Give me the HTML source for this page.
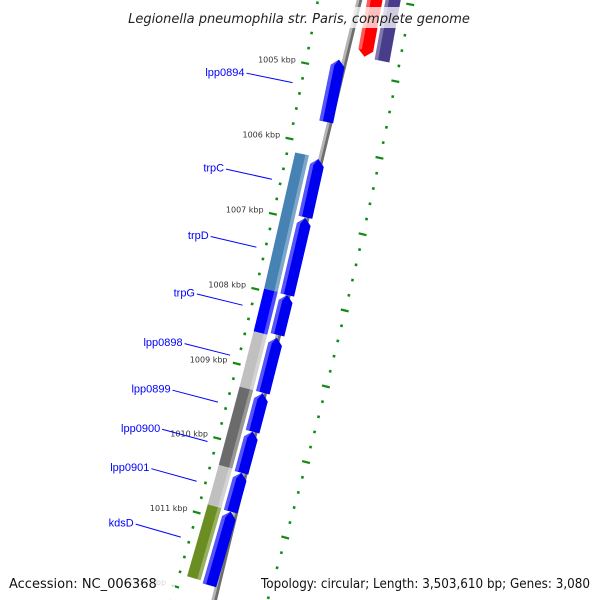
<!DOCTYPE html>
<html><head><meta charset="utf-8">
<style>
html,body{margin:0;padding:0;background:#fff;width:600px;height:600px;overflow:hidden;}
svg{display:block;font-family:"Liberation Sans","DejaVu Sans",sans-serif;overflow:hidden;}
.dv{font-family:"DejaVu Sans","Liberation Sans",sans-serif;}
</style></head>
<body>
<svg id="map" width="600" height="600" viewBox="0 0 600 600" xmlns="http://www.w3.org/2000/svg">
<g id="ticks"></g>
<g id="feats"></g>
<g id="labels"></g>
<g>
<rect x="116" y="7" width="368" height="21" fill="#fff" fill-opacity="0.75"/>
<text class="dv" x="299" y="23" text-anchor="middle" font-size="13" font-style="italic" fill="#222">Legionella pneumophila str. Paris, complete genome</text>
</g>
<g>
<rect x="5" y="572" width="170" height="21" fill="#fff" fill-opacity="0.8"/>
<text class="dv" x="9" y="588" font-size="13" fill="#111">Accession: NC_006368</text>
</g>
<g>
<rect x="256" y="572" width="340" height="21" fill="#fff" fill-opacity="0.8"/>
<text class="dv" x="261" y="588" font-size="13" textLength="329" lengthAdjust="spacingAndGlyphs" fill="#111">Topology: circular; Length: 3,503,610 bp; Genes: 3,080</text>
</g>
</svg>
<script>
// data
const tickMajors = [1004, 1005, 1006, 1007, 1008, 1009, 1010, 1011, 1012];
const tickLabels = ["1004 kbp","1005 kbp","1006 kbp","1007 kbp","1008 kbp","1009 kbp","1010 kbp","1011 kbp","1012 kbp"];
const geneNames = ["lpp0894","trpC","trpD","trpG","lpp0898","lpp0899","lpp0900","lpp0901","kdsD"];
const geneStarts = [1004.87, 1006.18, 1006.96, 1007.98, 1008.55, 1009.29, 1009.80, 1010.35, 1010.87];
const geneEnds   = [1005.69, 1006.95, 1007.98, 1008.51, 1009.28, 1009.80, 1010.35, 1010.87, 1011.86];
const cogStarts = [1006.16, 1007.97, 1008.54, 1009.28, 1010.33, 1010.86];
const cogEnds   = [1007.97, 1008.54, 1009.28, 1010.33, 1010.86, 1011.83];
const cogColors = ["#4682b4", "#0000ff", "#c0c0c0", "#6b6b6b", "#c0c0c0", "#6b8e23"];
const outerStarts = [1002.5, 1002.5];
const outerEnds = [1004.77, 1004.78];
const outerColors = ["#ff0000", "#483d8b"];

const NS = "http://www.w3.org/2000/svg";
const CX = -5500, CY = -1100;
function ang(k){ return (11.33 + 0.7457*(k-1005)) * Math.PI/180; }
function pt(k, r){ const a = ang(k); return [CX + r*Math.cos(a), CY + r*Math.sin(a)]; }
function poly(parent, pts, fill, op){
  const p = document.createElementNS(NS, "polygon");
  p.setAttribute("points", pts.map(q=>q[0].toFixed(2)+","+q[1].toFixed(2)).join(" "));
  p.setAttribute("fill", fill);
  if (op !== undefined) p.setAttribute("fill-opacity", op);
  parent.appendChild(p);
  return p;
}
function line(parent, a, b, color, w){
  const l = document.createElementNS(NS, "line");
  l.setAttribute("x1", a[0]); l.setAttribute("y1", a[1]);
  l.setAttribute("x2", b[0]); l.setAttribute("y2", b[1]);
  l.setAttribute("stroke", color); l.setAttribute("stroke-width", w);
  parent.appendChild(l);
  return l;
}
function band(parent, k1, k2, r1, r2, fill, op){
  return poly(parent, [pt(k1,r1), pt(k1,r2), pt(k2,r2), pt(k2,r1)], fill, op);
}

// ticks
const tg = document.getElementById("ticks");
for (let i = 0; i < tickMajors.length; i++) {
  for (let j = 0; j < 5; j++) {
    const k = tickMajors[i] + j*0.2;
    const major = j === 0;
    [5921, 6013].forEach(rr => {
      const l = major ? line(tg, pt(k, rr-4.5), pt(k, rr+3.5), "#138a13", 2.2)
                      : line(tg, pt(k, rr-1.3), pt(k, rr+1.3), "#138a13", 2.6);
      
      
    });
  }
  const p = pt(tickMajors[i], 5911);
  const t = document.createElementNS(NS, "text");
  t.setAttribute("x", p[0].toFixed(1)); t.setAttribute("y", (p[1]+1).toFixed(1));
  t.setAttribute("text-anchor", "end"); t.setAttribute("font-size", "8"); t.setAttribute("fill", "#333");
  t.setAttribute("class", "dv");
  t.textContent = tickLabels[i];
  
  
  tg.appendChild(t);
}

const fg = document.getElementById("feats");
// backbone
const bb1 = band(fg, 1003.5, 1012.6, 5961.5, 5964.2, "#b4b4b4");


const bb2 = band(fg, 1003.5, 1012.6, 5964.2, 5967, "#6e6e6e");



// COG bars
for (let i = 0; i < cogStarts.length; i++) {
  const b = band(fg, cogStarts[i], cogEnds[i], 5929, 5943, cogColors[i]);
  
  
  const h = band(fg, cogStarts[i], cogEnds[i], 5939.5, 5943, "#ffffff", 0.3);
  
  
}

// gene arrows (reverse strand: tip at start)
const tip = 0.085;
for (let i = 0; i < geneStarts.length; i++) {
  const s = geneStarts[i], e = geneEnds[i], r1 = 5946, r2 = 5960, rm = 5953;
  const a = poly(fg, [pt(s, rm), pt(s+tip, r2), pt(e, r2), pt(e, r1), pt(s+tip, r1)], "#0000f0");
  
  
  const h = poly(fg, [pt(s, rm), pt(s+tip, r1), pt(e, r1), pt(e, r1+3.5), pt(s+tip, r1+3.5)], "#6a6aff", 0.8);
  
  
}

// outer features (red forward arrow, purple bar)
{
  const s = outerStarts[0], e = outerEnds[0];
  const a = poly(fg, [pt(s,5970), pt(s,5985), pt(e-tip,5985), pt(e,5977.5), pt(e-tip,5970)], outerColors[0]);
  
  
  const b = band(fg, outerStarts[1], outerEnds[1], 5988, 6003, outerColors[1]);
  
  
  const h1 = band(fg, s, e-tip, 5970, 5973.5, "#ffffff", 0.35);
  
  
  const h2 = band(fg, outerStarts[1], outerEnds[1], 5988, 5991.5, "#ffffff", 0.3);
  
  
}

// labels
const lg = document.getElementById("labels");
for (let i = 0; i < geneNames.length; i++) {
  const m = (geneStarts[i] + geneEnds[i]) / 2;
  const l = line(lg, pt(m, 5865), pt(m, 5912), "#0000ff", 1);
  
  
  const p = pt(m, 5863);
  const t = document.createElementNS(NS, "text");
  t.setAttribute("x", p[0].toFixed(1)); t.setAttribute("y", (p[1]+3).toFixed(1));
  t.setAttribute("text-anchor", "end"); t.setAttribute("font-size", "11"); t.setAttribute("fill", "#0000ff");
  t.textContent = geneNames[i];
  
  
  lg.appendChild(t);
}
</script>
</body></html>
